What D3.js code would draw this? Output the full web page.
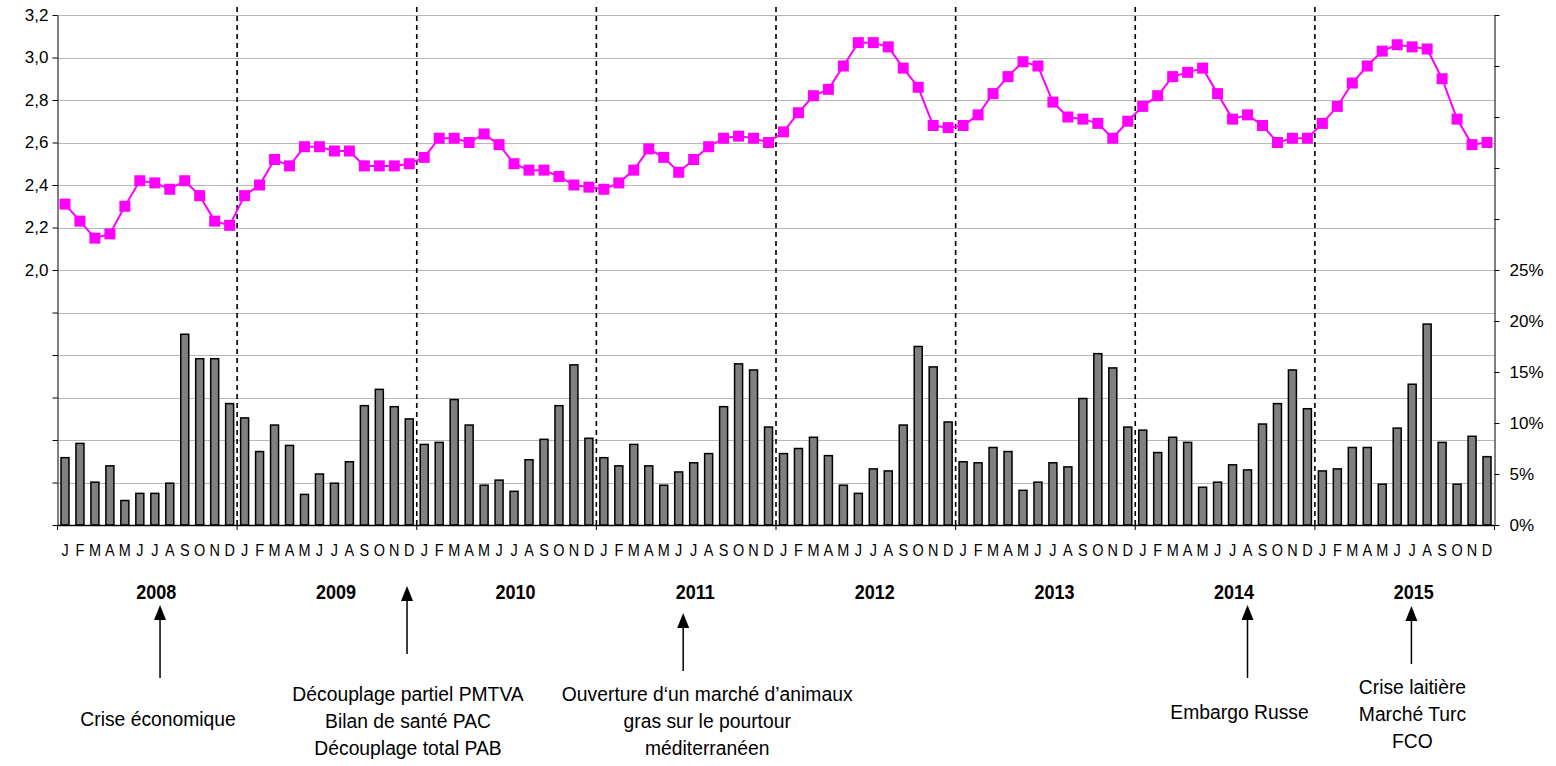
<!DOCTYPE html>
<html>
<head>
<meta charset="utf-8">
<script src="https://cdn.jsdelivr.net/npm/d3@7"></script>
<style>
  body { margin: 0; background: #fff; }
  svg { display: block; }
</style>
</head>
<body>
<div id="chart"></div>
<script>
// --- data ---
var years = [2008, 2009, 2010, 2011, 2012, 2013, 2014, 2015];
var monthLetters = ["J","F","M","A","M","J","J","A","S","O","N","D"];

// price, left axis
var price = [
  2.31, 2.23, 2.15, 2.17, 2.30, 2.42, 2.41, 2.38, 2.42, 2.35, 2.23, 2.21,
  2.35, 2.40, 2.52, 2.49, 2.58, 2.58, 2.56, 2.56, 2.49, 2.49, 2.49, 2.50,
  2.53, 2.62, 2.62, 2.60, 2.64, 2.59, 2.50, 2.47, 2.47, 2.44, 2.40, 2.39,
  2.38, 2.41, 2.47, 2.57, 2.53, 2.46, 2.52, 2.58, 2.62, 2.63, 2.62, 2.60,
  2.65, 2.74, 2.82, 2.85, 2.96, 3.07, 3.07, 3.05, 2.95, 2.86, 2.68, 2.67,
  2.68, 2.73, 2.83, 2.91, 2.98, 2.96, 2.79, 2.72, 2.71, 2.69, 2.62, 2.70,
  2.77, 2.82, 2.91, 2.93, 2.95, 2.83, 2.71, 2.73, 2.68, 2.60, 2.62, 2.62,
  2.69, 2.77, 2.88, 2.96, 3.03, 3.06, 3.05, 3.04, 2.90, 2.71, 2.59, 2.60
];

// monthly share (%), right axis
var share = [
  6.6, 8.0, 4.2, 5.8, 2.4, 3.1, 3.1, 4.1, 18.7, 16.3, 16.3, 11.9,
  10.5, 7.2, 9.8, 7.8, 3.0, 5.0, 4.1, 6.2, 11.7, 13.3, 11.6, 10.4,
  7.9, 8.1, 12.3, 9.8, 3.9, 4.4, 3.3, 6.4, 8.4, 11.7, 15.7, 8.5,
  6.6, 5.8, 7.9, 5.8, 3.9, 5.2, 6.1, 7.0, 11.6, 15.8, 15.2, 9.6,
  7.0, 7.5, 8.6, 6.8, 3.9, 3.1, 5.5, 5.3, 9.8, 17.5, 15.5, 10.1,
  6.2, 6.1, 7.6, 7.2, 3.4, 4.2, 6.1, 5.7, 12.4, 16.8, 15.4, 9.6,
  9.3, 7.1, 8.6, 8.1, 3.7, 4.2, 5.9, 5.4, 9.9, 11.9, 15.2, 11.4,
  5.3, 5.5, 7.6, 7.6, 4.0, 9.5, 13.8, 19.7, 8.1, 4.0, 8.7, 6.7
];

var leftTicks = [0.8, 1.0, 1.2, 1.4, 1.6, 1.8, 2.0, 2.2, 2.4, 2.6, 2.8, 3.0, 3.2];
var rightTicks = [0, 0.05, 0.10, 0.15, 0.20, 0.25, 0.30, 0.35, 0.40, 0.45, 0.50];

// events: month index where the arrow points, and the text under it
var eventMonth = [6.85, 23.35, 41.8, 79.5, 90.45];
var eventLines = [
  ["Crise économique"],
  ["Découplage partiel PMTVA", "Bilan de santé PAC", "Découplage total PAB"],
  ["Ouverture d\u2018un marché d\u2019animaux", "gras sur le pourtour", "méditerranéen"],
  ["Embargo Russe"],
  ["Crise laitière", "Marché Turc", "FCO"]
];

(function() {
// --- layout ---
var W = 1556, H = 766;
var pLeft = 57.5, pRight = 1494.5, pTop = 15, pBottom = 525;
var nMonths = price.length;

var svg = d3.select("#chart").append("svg")
  .attr("width", W).attr("height", H);

var x = d3.scaleLinear().domain([0, nMonths]).range([pLeft, pRight]);
var yL = d3.scaleLinear().domain([0.8, 3.2]).range([pBottom, pTop]);
var yR = d3.scaleLinear().domain([0, 0.5]).range([pBottom, pTop]);

var font = "'Liberation Sans', Arial, sans-serif";

// gridlines
svg.append("g").selectAll("line").data(leftTicks).enter().append("line")
  .attr("x1", pLeft).attr("x2", pRight)
  .attr("y1", function(d) { return Math.round(yL(d)) + 0.5; })
  .attr("y2", function(d) { return Math.round(yL(d)) + 0.5; })
  .attr("stroke", "#b8b8b8").attr("stroke-width", 1);

// left axis
var axL = svg.append("g").attr("transform", "translate(" + pLeft + ",0)")
  .call(d3.axisLeft(yL).tickValues(leftTicks).tickSize(5).tickSizeOuter(0)
    .tickFormat(function(d) { return d >= 1.99 ? d3.format(".1f")(d).replace(".", ",") : ""; }));
axL.select(".domain").attr("stroke", "#000");
axL.selectAll(".tick line").attr("stroke", "#000");
axL.selectAll("text").attr("font-family", font).attr("font-size", 17)
  .attr("fill", "#000").attr("x", -9);

// right axis
var axR = svg.append("g").attr("transform", "translate(" + pRight + ",0)")
  .call(d3.axisRight(yR).tickValues(rightTicks).tickSize(5).tickSizeOuter(0)
    .tickFormat(function(d) { return d <= 0.2501 ? Math.round(d * 100) + "%" : ""; }));
axR.select(".domain").attr("stroke", "#000");
axR.selectAll(".tick line").attr("stroke", "#000");
axR.selectAll("text").attr("font-family", font).attr("font-size", 17)
  .attr("fill", "#000").attr("x", 15);

// bars
var barW = 8;
svg.append("g").selectAll("rect").data(share).enter().append("rect")
  .attr("x", function(d, i) { return x(i + 0.5) - barW / 2; })
  .attr("y", function(d) { return yR(d / 100); })
  .attr("width", barW)
  .attr("height", function(d) { return pBottom - yR(d / 100); })
  .attr("fill", "#808080").attr("stroke", "#000").attr("stroke-width", 1.5);

// year separators
svg.append("g").selectAll("line").data(years.slice(1)).enter().append("line")
  .attr("x1", function(d, i) { return x((i + 1) * 12); })
  .attr("x2", function(d, i) { return x((i + 1) * 12); })
  .attr("y1", 7).attr("y2", pBottom)
  .attr("stroke", "#000").attr("stroke-width", 1.6).attr("stroke-dasharray", "5,4");

// bottom axis line with year ticks
svg.append("line").attr("x1", pLeft).attr("x2", pRight)
  .attr("y1", pBottom + 0.5).attr("y2", pBottom + 0.5)
  .attr("stroke", "#000").attr("stroke-width", 1.5);
svg.append("g").selectAll("line").data(d3.range(years.length + 1)).enter().append("line")
  .attr("x1", function(d) { return x(d * 12); }).attr("x2", function(d) { return x(d * 12); })
  .attr("y1", pBottom).attr("y2", pBottom + 5)
  .attr("stroke", "#000").attr("stroke-width", 1);

// price line
var line = d3.line()
  .x(function(d, i) { return x(i + 0.5); })
  .y(function(d) { return yL(d); });
svg.append("path").datum(price).attr("d", line)
  .attr("fill", "none").attr("stroke", "#ff00ff").attr("stroke-width", 2);
var mk = 11;
svg.append("g").selectAll("rect").data(price).enter().append("rect")
  .attr("x", function(d, i) { return x(i + 0.5) - mk / 2; })
  .attr("y", function(d) { return yL(d) - mk / 2; })
  .attr("width", mk).attr("height", mk)
  .attr("fill", "#ff00ff");

// narrow text: squeeze a regular face horizontally
function squeezed(parent, cx, cy, str, size, sx, bold) {
  var g = parent.append("g")
    .attr("transform", "translate(" + cx + "," + cy + ") scale(" + sx + ",1)");
  var t = g.append("text")
    .attr("x", 0).attr("y", 0)
    .attr("text-anchor", "middle")
    .attr("font-family", font).attr("font-size", size)
    .text(str);
  if (bold) t.attr("font-weight", "bold");
  return t;
}

// month letters
var mg = svg.append("g");
d3.range(nMonths).forEach(function(i) {
  squeezed(mg, x(i + 0.5), 556, monthLetters[i % 12], 17, 0.85, false);
});

// year labels
var yg = svg.append("g");
years.forEach(function(yr, i) {
  squeezed(yg, x(i * 12 + 6) + 9, 599, yr, 20, 0.9, true);
});

// event arrows and notes
var arrowTop = [605, 586, 613, 605, 606];
var arrowBottom = [678, 654, 671, 678, 664];
var textTop = [719, 694, 694, 712, 687];
var textShift = [-2, 1, 24, -8, 1];
var lineGap = 27;

var ev = svg.append("g").selectAll("g").data(eventMonth).enter().append("g");
ev.append("line")
  .attr("x1", function(d) { return x(d); }).attr("x2", function(d) { return x(d); })
  .attr("y1", function(d, i) { return arrowTop[i] + 12; })
  .attr("y2", function(d, i) { return arrowBottom[i]; })
  .attr("stroke", "#000").attr("stroke-width", 1.5);
ev.append("path")
  .attr("d", function(d, i) {
    var cx = x(d), ty = arrowTop[i];
    return "M" + cx + "," + ty + "L" + (cx - 6) + "," + (ty + 15) + "L" + (cx + 6) + "," + (ty + 15) + "Z";
  })
  .attr("fill", "#000");
ev.each(function(d, i) {
  var g = d3.select(this);
  eventLines[i].forEach(function(t, k) {
    squeezed(g, x(d) + textShift[i], textTop[i] + k * lineGap + 7, t, 21, 0.92, false);
  });
});
})();
</script>
</body>
</html>
